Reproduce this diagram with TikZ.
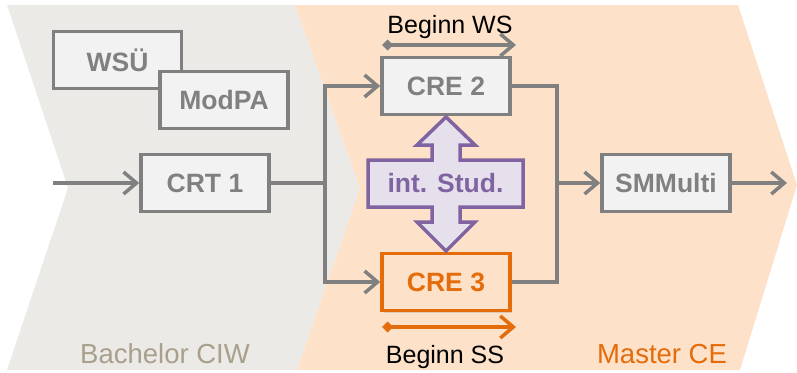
\documentclass[tikz,border=0pt]{standalone}
\usepackage{fontspec}
\setmainfont{Liberation Sans}
\usetikzlibrary{arrows.meta,shadows}

\definecolor{bachgray}{RGB}{236,234,230}
\definecolor{masterpeach}{RGB}{253,225,201}
\definecolor{boxfill}{RGB}{242,242,242}
\definecolor{linegray}{RGB}{128,128,128}
\definecolor{ceorange}{RGB}{228,108,10}
\definecolor{ciwtext}{RGB}{168,160,140}
\definecolor{studline}{RGB}{128,100,162}
\definecolor{studfill}{RGB}{229,224,236}

\tikzset{
  module/.style={draw=linegray, line width=3.5pt, fill=boxfill, text=linegray,
    minimum width=128pt, minimum height=57pt, inner sep=0pt,
    font=\fontsize{26.5}{30}\selectfont\bfseries},
  flow/.style={draw=linegray, line width=3.5pt},
  flowarrow/.style={flow, -{Straight Barb[length=13pt,width=22pt]}},
  semester/.style={line width=3.5pt, {Diamond[length=11pt,width=11pt]}-{Straight Barb[length=13pt,width=22pt]}},
  label/.style={anchor=base, font=\fontsize{25}{30}\selectfont},
  phase/.style={anchor=base, font=\fontsize{27.5}{32}\selectfont},
}

\begin{document}
\begin{tikzpicture}[x=1pt,y=-1pt]
\useasboundingbox (0,0) rectangle (797,372);

% phases
\fill[bachgray] (7,5) -- (295,5) -- (360,188) -- (297,370) -- (7,370) -- (68,188) -- cycle;
\fill[masterpeach] (295,5) -- (738,5) -- (797,185) -- (740,370) -- (297,370) -- (360,188) -- cycle;

\node[phase, text=ciwtext] (ciw) at (165,363) {Bachelor CIW};
\node[phase, text=ceorange] (ce) at (662,363) {Master CE};

% modules
\node[module] (wsu) at (117.5,60) {WSÜ};
\node[module] (modpa) at (224,100) {ModPA};
\node[module] (crt) at (205,183) {CRT 1};
\node[module] (cre2) at (446,86) {CRE 2};
\node[module, draw=ceorange, fill=masterpeach, text=ceorange,
  drop shadow={shadow xshift=2pt, shadow yshift=-2pt, opacity=0.25}] (cre3) at (446,282) {CRE 3};
\node[module] (smm) at (666,183) {SMMulti};

% exchange between CRE 2 and CRE 3
\draw[studline, fill=studfill, line width=3.5pt, line join=miter]
  (446,117) -- (475,145) -- (460,145) -- (460,160) -- (523,160) -- (523,207)
  -- (460,207) -- (460,222) -- (475,222) -- (446,251) -- (417,222) -- (432,222)
  -- (432,207) -- (368,207) -- (368,160) -- (432,160) -- (432,145) -- (417,145) -- cycle;
\node[font=\fontsize{26.5}{30}\selectfont\bfseries, text=studline] (stud) at (445.5,183.5) {int. Stud.};

% flow
\coordinate (in) at (53,183);
\coordinate (split) at (325,183);
\coordinate (join) at (557,183);
\coordinate (out) at (787,183);
\draw[flowarrow] (in) -- (crt);
\draw[flow] (crt) -- (split);
\draw[flowarrow] (split) |- (cre2);
\draw[flowarrow] (split) |- (cre3);
\draw[flow] (cre2) -| (join) |- (cre3);
\draw[flowarrow] (join) -- (smm);
\draw[flowarrow] (smm) -- (out);

% start of studies
\coordinate (ws1) at (382,45);
\coordinate (ws2) at (516,45);
\coordinate (ss1) at (382,327);
\coordinate (ss2) at (516,327);
\draw[semester, linegray] (ws1) -- (ws2);
\draw[semester, ceorange] (ss1) -- (ss2);
\node[label] (ws) at (450,33) {Beginn WS};
\node[label] (ss) at (445,363) {Beginn SS};

\end{tikzpicture}
\end{document}
